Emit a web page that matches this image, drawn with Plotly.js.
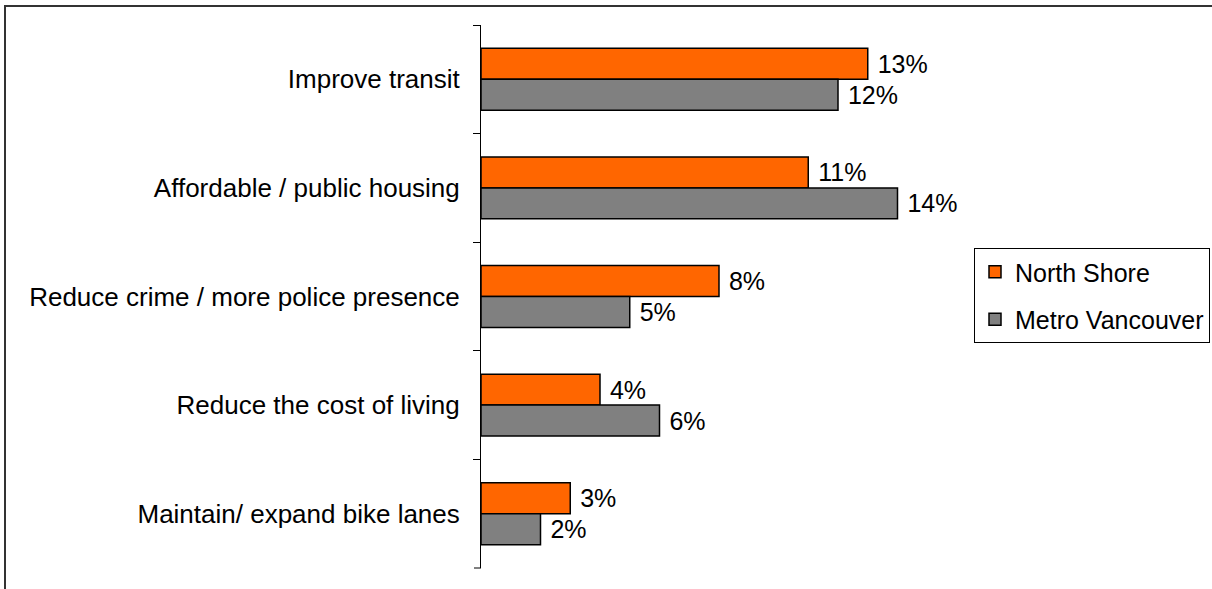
<!DOCTYPE html>
<html>
<head>
<meta charset="utf-8">
<script src="https://cdn.plot.ly/plotly-3.0.1.min.js"></script>
<style>
  html, body { margin: 0; padding: 0; background: #fff; }
  #wrap { position: relative; width: 1212px; height: 589px; overflow: hidden; }
  #chart { position: absolute; left: 0; top: 0; width: 1212px; height: 589px; }
  #frame { position: absolute; left: 4px; top: 5px; width: 1300px; height: 700px;
           border-top: 2px solid #333; border-left: 2px solid #333; pointer-events: none; }
</style>
</head>
<body>
<div id="wrap">
  <div id="chart"></div>
  <div id="frame"></div>
</div>
<script>
const categories = [
  "Improve transit",
  "Affordable / public housing",
  "Reduce crime / more police presence",
  "Reduce the cost of living",
  "Maintain/ expand bike lanes"
];
const northShore = [13, 11, 8, 4, 3];
const metroVancouver = [12, 14, 5, 6, 2];
const seriesNames = ["North Shore", "Metro Vancouver"];

const FONT = "Liberation Sans, Arial, sans-serif";

function trace(name, vals, color, grp) {
  return {
    type: "bar",
    orientation: "h",
    name: name,
    legendgroup: grp,
    y: categories,
    x: vals,
    marker: { color: color, line: { color: "#000", width: 1.5 } },
    text: vals.map(v => " " + v + "%"),
    textposition: "outside",
    constraintext: "none",
    cliponaxis: false,
    textfont: { family: FONT, size: 25, color: "#000" },
    hoverinfo: "none"
  };
}

const data = [
  trace(seriesNames[0], northShore, "#FF6600", "a"),
  trace(seriesNames[1], metroVancouver, "#808080", "b")
];

const W = 1212, H = 589;
const L = 481, R = 255, T = 25, B = 21;
const plotW = W - L - R;

const layout = {
  width: W,
  height: H,
  margin: { l: L, r: R, t: T, b: B, pad: 0, autoexpand: false },
  paper_bgcolor: "#fff",
  plot_bgcolor: "#fff",
  barmode: "group",
  bargap: 0.43,
  bargroupgap: 0,
  font: { family: FONT, size: 26, color: "#000" },
  xaxis: {
    range: [0, 16],
    visible: false,
    showgrid: false,
    zeroline: false,
    fixedrange: true
  },
  yaxis: {
    type: "category",
    autorange: "reversed",
    showline: true,
    linecolor: "#000",
    linewidth: 1,
    ticks: "outside",
    tickson: "boundaries",
    ticklen: 7,
    tickwidth: 1,
    tickcolor: "#000",
    ticklabelstandoff: 15,
    showgrid: false,
    zeroline: false,
    tickfont: { family: FONT, size: 26, color: "#000" },
    fixedrange: true
  },
  shapes: [
    { type: "line", xref: "paper", yref: "paper", x0: -7 / plotW, x1: 0, y0: 0, y1: 0,
      line: { color: "#000", width: 1 } }
  ],
  showlegend: true,
  legend: {
    xref: "container",
    yref: "container",
    x: 974 / W,
    xanchor: "left",
    y: 1 - 248 / H,
    yanchor: "top",
    traceorder: "grouped",
    tracegroupgap: 12,
    bordercolor: "#000",
    borderwidth: 1,
    bgcolor: "#fff",
    font: { family: FONT, size: 25, color: "#000" }
  }
};

Plotly.newPlot("chart", data, layout, { displayModeBar: false, staticPlot: true });
</script>
</body>
</html>
